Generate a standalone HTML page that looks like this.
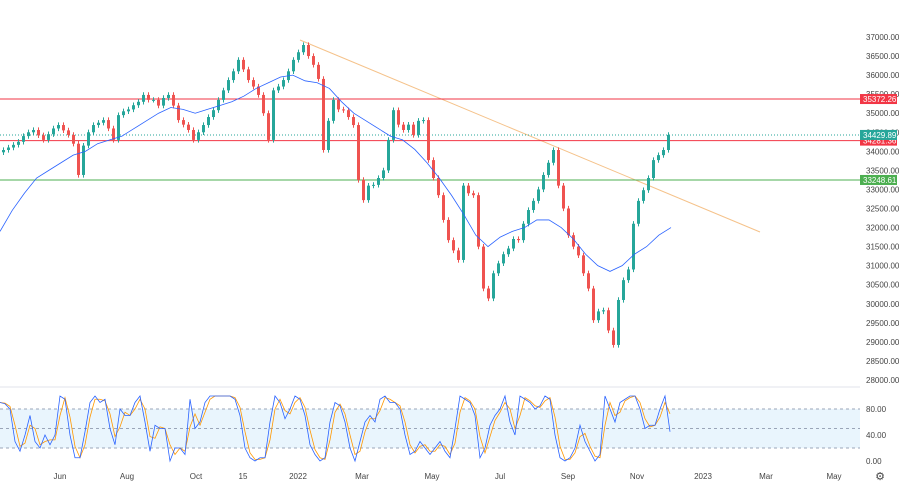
<!DOCTYPE html>
<html><head><meta charset="utf-8"><style>
body{margin:0;background:#fff;font-family:"Liberation Sans",sans-serif;}
svg{display:block}
text{font-family:"Liberation Sans",sans-serif;font-size:8px;fill:#444}
</style></head><body>
<svg id="c" width="900" height="483"></svg>
<script>
const closes=[34035,34100,34170,34250,34400,34500,34560,34420,34300,34450,34600,34690,34550,34430,34200,33380,34150,34500,34690,34750,34820,34600,34300,34950,35050,35100,35210,35300,35480,35350,35350,35200,35400,35480,35200,34820,34700,34560,34300,34500,34690,34900,35080,35350,35600,35870,36100,36400,36150,35870,35700,35480,35000,34300,35600,35700,35870,36100,36400,36600,36790,36500,36270,35900,34035,34800,35350,35100,35080,34900,34690,33250,32720,33100,33120,33300,33500,34300,35080,34700,34560,34700,34430,34800,34820,33770,33300,32850,32200,31670,31400,31150,33100,32900,32850,31500,30400,30140,30800,31060,31300,31450,31700,31670,32100,32460,32700,33000,33380,33700,34035,33100,32500,31800,31500,31270,30800,30400,29570,29800,29830,29300,28920,30100,30620,30900,32100,32700,32980,33300,33770,33900,34035,34430];
const maValues=[31900,32450,32900,33300,33500,33700,33900,34000,34200,34300,34400,34600,34800,35000,35150,35100,35000,35100,35200,35300,35450,35650,35800,35950,36000,35850,35800,35650,35300,35000,34800,34600,34400,34300,34050,33700,33300,32850,32350,31800,31500,31750,31900,32000,32200,32200,32000,31700,31300,31000,30850,31000,31300,31500,31800,32000];
const stochK=[90,88,80,30,15,40,70,30,20,40,25,40,100,95,40,5,5,45,90,100,90,95,50,25,80,70,70,90,100,60,15,55,50,50,0,20,20,10,95,50,60,90,100,100,100,100,100,95,70,20,5,0,5,5,60,100,90,65,80,100,95,70,25,10,0,5,60,90,85,60,20,0,30,60,70,60,95,100,90,90,80,40,10,15,30,20,10,20,30,15,5,50,100,95,90,70,5,20,55,70,80,100,60,40,100,95,90,80,85,100,95,40,5,0,5,20,55,30,15,0,10,100,80,60,90,95,100,100,80,50,55,55,80,100,45];
const priceTicks=[37000,36500,36000,35500,35000,34500,34000,33500,33000,32500,32000,31500,31000,30500,30000,29500,29000,28500,28000];
const stochTicks=[80,40,0];
const xLabels=["Jun","Aug","Oct","15","2022","Mar","May","Jul","Sep","Nov","2023","Mar","May"];
const xLabelPos=[60,127,196,243,298,362,432,500,568,637,703,766,834];
const levels=[{v:35372.26,c:"#f23645",l:"35372.26"},{v:34281.36,c:"#f23645",l:"34281.36"},{v:33248.61,c:"#4caf50",l:"33248.61"}];
const last=34429.89;
const NS="http://www.w3.org/2000/svg";
const svg=document.getElementById('c');
function el(t,a,p){const e=document.createElementNS(NS,t);for(const k in a)e.setAttribute(k,a[k]);(p||svg).appendChild(e);return e;}
const py=p=>37+(37000-p)*343/9000;
const sy=v=>461-v*0.65;
const cx=i=>2+i*5;
const mx=i=>i*12.2;
let s=el('line',{x1:0,y1:387,x2:860,y2:387,stroke:'#e0e3eb'});

priceTicks.forEach(p=>{const t=el('text',{x:866,y:py(p)+3});t.textContent=p.toFixed(2);
});
let tl=el('line',{x1:300,y1:40,x2:760,y2:232,stroke:'#f5c28a','stroke-width':1});

levels.forEach(L=>{const y=py(L.v);const ln=el('line',{x1:0,y1:y,x2:860,y2:y,stroke:L.c,'stroke-width':1});
});
{const y=py(last);const ln=el('line',{x1:0,y1:y,x2:860,y2:y,stroke:'#26a69a','stroke-dasharray':'1,2'});
}
closes.forEach((c,i)=>{const o=i?closes[i-1]:c-60;const col=c>=o?'#26a69a':'#ef5350';
const hi=Math.max(o,c)+70,lo=Math.min(o,c)-70;const x=cx(i);
const w=el('line',{x1:x+1.5,y1:py(hi),x2:x+1.5,y2:py(lo),stroke:col});

const b=el('rect',{x:x,y:py(Math.max(o,c)),width:3,height:Math.max(1,Math.abs(py(o)-py(c))),fill:col});
});
let m=el('polyline',{points:maValues.map((v,i)=>mx(i)+','+py(v)).join(' '),fill:'none',stroke:'#2962ff','stroke-width':0.8});

levels.forEach(L=>{const y=py(L.v);
const r=el('rect',{x:860,y:y-5,width:37,height:10,fill:L.c});

const t=el('text',{x:863,y:y+3,style:'fill:#fff'});t.textContent=L.l;
});
{const y=py(last);
const r=el('rect',{x:860,y:y-5,width:37,height:10,fill:'#26a69a'});

const t=el('text',{x:863,y:y+3,style:'fill:#fff'});t.textContent=last.toFixed(2);
}
let band=el('rect',{x:0,y:sy(80),width:860,height:sy(20)-sy(80),fill:'#e3f2fd',opacity:0.8});

[80,50,20].forEach(v=>{const l=el('line',{x1:0,y1:sy(v),x2:860,y2:sy(v),stroke:'#9aa5b8','stroke-dasharray':'3,3'});
});
stochTicks.forEach(v=>{const t=el('text',{x:866,y:sy(v)+3});t.textContent=v.toFixed(2);
});
const d=stochK.map((v,i)=>i?(v+stochK[i-1])/2:v);
let pd=el('polyline',{points:d.map((v,i)=>(i*5)+','+sy(v)).join(' '),fill:'none',stroke:'#ff9800','stroke-width':0.8});

let pk=el('polyline',{points:stochK.map((v,i)=>(i*5)+','+sy(v)).join(' '),fill:'none',stroke:'#2962ff','stroke-width':0.8});

xLabels.forEach((l,i)=>{const t=el('text',{x:xLabelPos[i],y:479,'text-anchor':'middle'});t.textContent=l;
});
let g=el('text',{x:880,y:480,'text-anchor':'middle',style:'font-size:11px'});g.textContent='⚙';

</script>
</body></html>
